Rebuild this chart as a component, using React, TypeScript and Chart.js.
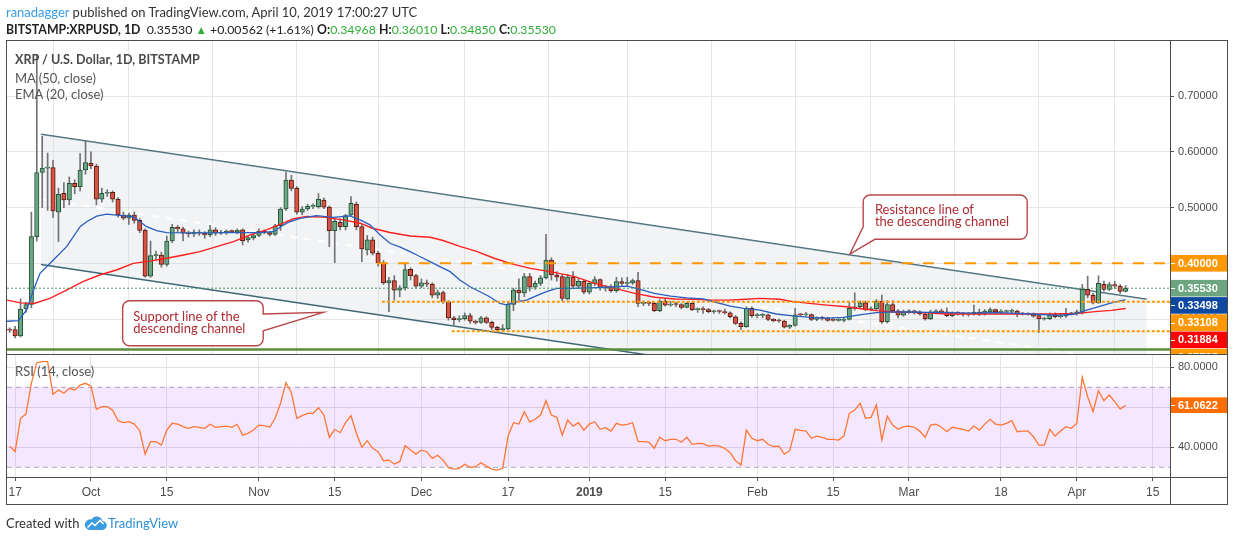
import React, { useEffect, useRef } from "react";
import { Chart, registerables } from "chart.js";

Chart.register(...registerables);

// ---------------- data ----------------
const FIRST_DATE = "2018-09-16";

const OPEN = [
  // Sep 16-30
  0.281, 0.281, 0.2695, 0.318, 0.326, 0.448, 0.563, 0.571, 0.572, 0.492, 0.5257, 0.5137, 0.5436, 0.5376, 0.5675,
  // Oct
  0.5795, 0.5747, 0.515, 0.5257, 0.5275, 0.515, 0.4867, 0.481, 0.4867, 0.477,
  0.459, 0.377, 0.4137, 0.415, 0.398, 0.44, 0.4646, 0.462, 0.454, 0.4526,
  0.456, 0.454, 0.451, 0.46, 0.454, 0.455, 0.4575, 0.4568, 0.46, 0.4418, 0.4454,
  // Nov
  0.45, 0.4575, 0.455, 0.452, 0.4675, 0.4975, 0.5496, 0.5346, 0.492, 0.4975,
  0.5023, 0.5017, 0.5137, 0.501, 0.4586, 0.4736, 0.4657, 0.4867, 0.506, 0.4659,
  0.424, 0.442, 0.418, 0.401, 0.365, 0.3688, 0.3516, 0.356, 0.389, 0.378,
  // Dec
  0.359, 0.365, 0.3625, 0.343, 0.3475, 0.331, 0.302, 0.299, 0.3005, 0.306,
  0.296, 0.294, 0.302, 0.294, 0.285, 0.281, 0.282, 0.3264, 0.352, 0.347,
  0.376, 0.357, 0.364, 0.374, 0.406, 0.379, 0.376, 0.336, 0.3755, 0.359, 0.3677,
  // Jan
  0.348, 0.364, 0.371, 0.356, 0.357, 0.351, 0.367, 0.364, 0.365, 0.369,
  0.328, 0.3285, 0.328, 0.315, 0.332, 0.325, 0.3265, 0.326, 0.321, 0.328,
  0.317, 0.3175, 0.317, 0.313, 0.314, 0.3135, 0.311, 0.304, 0.2923, 0.2862, 0.319,
  // Feb
  0.306, 0.3065, 0.3075, 0.2995, 0.297, 0.2965, 0.2855, 0.2887, 0.3077, 0.3075,
  0.308, 0.2995, 0.302, 0.3012, 0.2985, 0.2975, 0.2975, 0.2995, 0.319, 0.322,
  0.329, 0.317, 0.318, 0.332, 0.295, 0.326, 0.3145, 0.307,
  // Mar
  0.313, 0.3135, 0.313, 0.309, 0.3, 0.313, 0.3135, 0.313, 0.306, 0.311,
  0.3105, 0.309, 0.309, 0.3126, 0.309, 0.3126, 0.317, 0.3126, 0.3135, 0.3138,
  0.3144, 0.309, 0.3095, 0.309, 0.306, 0.3, 0.3005, 0.309, 0.304, 0.305, 0.3095,
  // Apr 1-10
  0.309, 0.3103, 0.3533, 0.3425, 0.329, 0.3623, 0.3533, 0.362, 0.359, 0.34968,
];

const HIGH = [
  0.284, 0.287, 0.336, 0.33, 0.492, 0.775, 0.628, 0.598, 0.585, 0.535, 0.545, 0.555, 0.55, 0.597, 0.62,
  0.6, 0.578, 0.535, 0.532, 0.53, 0.518, 0.492, 0.49, 0.492, 0.48,
  0.462, 0.44, 0.422, 0.42, 0.449, 0.47, 0.468, 0.465, 0.458, 0.46,
  0.46, 0.457, 0.468, 0.464, 0.459, 0.46, 0.46, 0.462, 0.462, 0.448, 0.452,
  0.462, 0.46, 0.457, 0.47, 0.5, 0.564, 0.558, 0.538, 0.502, 0.506,
  0.507, 0.525, 0.517, 0.503, 0.48, 0.48, 0.488, 0.52, 0.51, 0.47,
  0.45, 0.447, 0.422, 0.405, 0.375, 0.378, 0.36, 0.4, 0.392, 0.38,
  0.372, 0.37, 0.365, 0.352, 0.35, 0.333, 0.305, 0.306, 0.311, 0.31,
  0.298, 0.305, 0.304, 0.296, 0.287, 0.29, 0.33, 0.355, 0.372, 0.382,
  0.382, 0.368, 0.378, 0.452, 0.41, 0.385, 0.38, 0.38, 0.385, 0.372, 0.37,
  0.366, 0.376, 0.372, 0.36, 0.362, 0.375, 0.374, 0.375, 0.372, 0.384,
  0.332, 0.332, 0.33, 0.335, 0.336, 0.332, 0.33, 0.328, 0.33, 0.33,
  0.32, 0.322, 0.319, 0.316, 0.316, 0.318, 0.313, 0.306, 0.295, 0.322, 0.322,
  0.31, 0.31, 0.309, 0.301, 0.3, 0.298, 0.29, 0.319, 0.31, 0.312,
  0.309, 0.304, 0.305, 0.303, 0.302, 0.301, 0.302, 0.33, 0.347, 0.332,
  0.332, 0.322, 0.335, 0.343, 0.333, 0.333, 0.317, 0.316,
  0.317, 0.316, 0.315, 0.31, 0.316, 0.317, 0.318, 0.32, 0.313, 0.313,
  0.312, 0.312, 0.325, 0.318, 0.317, 0.32, 0.318, 0.317, 0.316, 0.318,
  0.316, 0.312, 0.311, 0.311, 0.307, 0.303, 0.311, 0.311, 0.31, 0.319, 0.312,
  0.316, 0.362, 0.377, 0.346, 0.3777, 0.368, 0.366, 0.368, 0.362, 0.3601,
];

const LOW = [
  0.276, 0.266, 0.268, 0.312, 0.32, 0.44, 0.5, 0.495, 0.482, 0.439, 0.5, 0.505, 0.525, 0.53, 0.56,
  0.57, 0.505, 0.51, 0.52, 0.51, 0.483, 0.478, 0.47, 0.472, 0.455,
  0.375, 0.375, 0.405, 0.393, 0.395, 0.437, 0.455, 0.44, 0.447, 0.448,
  0.45, 0.445, 0.448, 0.45, 0.452, 0.452, 0.455, 0.453, 0.433, 0.438, 0.442,
  0.448, 0.453, 0.449, 0.45, 0.459, 0.495, 0.53, 0.488, 0.487, 0.495,
  0.498, 0.499, 0.498, 0.43, 0.401, 0.46, 0.46, 0.485, 0.46, 0.403,
  0.415, 0.415, 0.395, 0.362, 0.313, 0.334, 0.34, 0.352, 0.37, 0.355,
  0.356, 0.358, 0.338, 0.337, 0.328, 0.298, 0.29, 0.295, 0.298, 0.292,
  0.291, 0.292, 0.292, 0.281, 0.278, 0.279, 0.281, 0.315, 0.334, 0.34,
  0.35, 0.353, 0.36, 0.372, 0.37, 0.368, 0.333, 0.334, 0.355, 0.356, 0.345,
  0.345, 0.36, 0.352, 0.35, 0.348, 0.348, 0.36, 0.36, 0.362, 0.322,
  0.324, 0.324, 0.313, 0.313, 0.323, 0.323, 0.322, 0.318, 0.32, 0.315,
  0.312, 0.31, 0.311, 0.31, 0.31, 0.309, 0.302, 0.29, 0.281, 0.285, 0.303,
  0.302, 0.302, 0.297, 0.295, 0.294, 0.284, 0.283, 0.287, 0.305, 0.305,
  0.297, 0.297, 0.298, 0.296, 0.296, 0.296, 0.295, 0.298, 0.316, 0.318,
  0.315, 0.315, 0.316, 0.292, 0.293, 0.312, 0.302, 0.305,
  0.31, 0.309, 0.307, 0.298, 0.299, 0.31, 0.31, 0.304, 0.304, 0.307,
  0.305, 0.305, 0.307, 0.306, 0.307, 0.311, 0.311, 0.31, 0.311, 0.311,
  0.304, 0.307, 0.307, 0.303, 0.2754, 0.298, 0.299, 0.302, 0.302, 0.303, 0.307,
  0.307, 0.309, 0.338, 0.327, 0.328, 0.35, 0.351, 0.355, 0.346, 0.3485,
];

const CLOSE = [
  0.28, 0.2695, 0.318, 0.326, 0.448, 0.563, 0.571, 0.572, 0.494, 0.524, 0.5137, 0.5436, 0.5376, 0.5675, 0.581,
  0.5747, 0.515, 0.5257, 0.5275, 0.515, 0.4867, 0.481, 0.4867, 0.477, 0.459,
  0.377, 0.4137, 0.415, 0.398, 0.44, 0.4646, 0.462, 0.454, 0.4526, 0.456,
  0.454, 0.451, 0.46, 0.454, 0.4556, 0.4575, 0.4568, 0.4595, 0.4406, 0.446, 0.45,
  0.4575, 0.455, 0.452, 0.4675, 0.4975, 0.5496, 0.5346, 0.492, 0.4975, 0.5023,
  0.5025, 0.515, 0.501, 0.4586, 0.4754, 0.4657, 0.4855, 0.5077, 0.4659, 0.4257,
  0.442, 0.418, 0.401, 0.365, 0.3688, 0.3516, 0.356, 0.3886, 0.378, 0.359,
  0.365, 0.3625, 0.343, 0.3475, 0.331, 0.302, 0.299, 0.3005, 0.306, 0.296,
  0.294, 0.302, 0.294, 0.285, 0.281, 0.283, 0.3264, 0.352, 0.347, 0.376,
  0.357, 0.364, 0.374, 0.406, 0.379, 0.375, 0.337, 0.3755, 0.359, 0.3677, 0.348,
  0.364, 0.371, 0.356, 0.357, 0.351, 0.367, 0.364, 0.366, 0.369, 0.328,
  0.3285, 0.328, 0.315, 0.332, 0.325, 0.3265, 0.326, 0.321, 0.328, 0.317,
  0.3175, 0.317, 0.313, 0.314, 0.3135, 0.311, 0.304, 0.2923, 0.2862, 0.319, 0.306,
  0.3065, 0.3075, 0.2995, 0.297, 0.2965, 0.2855, 0.2887, 0.3077, 0.3075, 0.308,
  0.2995, 0.302, 0.3012, 0.2975, 0.2975, 0.2985, 0.2995, 0.319, 0.322, 0.329,
  0.317, 0.318, 0.332, 0.295, 0.326, 0.3145, 0.307, 0.313,
  0.3135, 0.313, 0.309, 0.3, 0.313, 0.3135, 0.313, 0.306, 0.311, 0.3105,
  0.309, 0.3095, 0.3126, 0.309, 0.3143, 0.317, 0.3126, 0.3135, 0.3138, 0.3144,
  0.309, 0.3095, 0.309, 0.305, 0.3, 0.3005, 0.3077, 0.304, 0.3055, 0.3095, 0.3095,
  0.313, 0.3533, 0.3426, 0.329, 0.364, 0.3533, 0.362, 0.359, 0.3497, 0.3553,
];

const RSI = [
  40.6, 37.8, 54.5, 56.6, 72, 82.3, 82.8, 82.8, 66.5, 68.6, 67, 69.5, 68.6, 71.1, 72,
  70.6, 59, 60.3, 60.3, 58.6, 53.3, 52.3, 52.8, 51.6, 48.3,
  36.6, 42.8, 42.8, 41.1, 48.6, 52, 51.6, 50.3, 49.5, 50.3,
  50, 49.5, 51.5, 50, 50.3, 50.6, 50, 51.5, 46, 47, 48.6,
  51.1, 50.8, 50, 54.5, 62, 72.3, 67.3, 54.5, 55.8, 57,
  57, 59.8, 56.1, 45, 49, 47.3, 52.3, 55.8, 47, 40,
  43.3, 39.5, 37.8, 33.3, 33.6, 31.6, 32.8, 40.8, 38.6, 36.6,
  38.6, 37.8, 34.5, 36, 33.6, 29.8, 29.1, 29.5, 31.5, 30,
  30.3, 32.3, 30.6, 29.1, 28.6, 29.5, 45.6, 52.3, 51.6, 57.8,
  52.6, 54, 56.1, 63.3, 56.1, 55, 46.1, 53.6, 50.6, 52.3, 48.6,
  51.6, 52.8, 49, 49.8, 48.1, 52, 51.1, 51.5, 52.3, 42.8,
  42.8, 42.6, 39.5, 45, 43.3, 44, 44, 42.5, 45, 41.5,
  42, 41.8, 40.6, 41, 40.6, 39.5, 37.3, 33.3, 31.1, 48.6, 44.5,
  43.3, 44, 41.5, 40.3, 40.6, 36.6, 38.3, 49, 48.5, 48.1,
  44.5, 45.6, 45, 44, 44, 43.6, 45.6, 57, 58.6, 62,
  54.5, 55, 61.1, 43.6, 55.6, 51.1, 49, 50.3,
  50.6, 50, 48.1, 45, 51.1, 51.5, 50, 47.8, 50, 49.5,
  49, 48.1, 50.6, 48.6, 51.6, 54, 51.6, 51.1, 52, 53.3,
  47.8, 48.1, 48.1, 45.3, 41.1, 41.1, 49, 45.6, 48.1, 50.3, 49.5,
  52, 75, 65.3, 57.8, 68.3, 63.3, 66.1, 62.8, 59.1, 61.0622,
];

// indicator lines, read at day offsets from 2018-10-01
const MA50_DAYS = [
  -15.5, -13, -10.5, -7.6, -4.5, -1.5, 1.6, 4.7, 7.8, 10.9, 14, 17.1, 20.1, 23.2, 26.3, 29.4, 32.4, 35.5,
  37.4, 39.8, 42.9, 46.6, 49.7, 52, 55.2, 58.9, 62.6, 65, 68.1, 71.2, 74.3, 77.4, 81.1, 84.8, 89.3, 93,
  96.7, 100.4, 104.1, 107.8, 111.5, 114.6, 117.7, 120.1, 123.5, 127.2, 129.6, 132.7, 135.8, 139.5, 141.9,
  145, 148.1, 151.2, 154.3, 157.9, 162.3, 167.5, 173.6, 177.3, 181.6, 183.5, 185.9, 188.4, 191,
];
const MA50 = [
  0.334, 0.329, 0.328, 0.337, 0.352, 0.367, 0.379, 0.388, 0.4, 0.404, 0.409, 0.415, 0.421, 0.43, 0.439, 0.451, 0.46, 0.472,
  0.48, 0.484, 0.483, 0.478, 0.472, 0.463, 0.4553, 0.449, 0.4468, 0.441, 0.4305, 0.4215, 0.4096, 0.4, 0.391, 0.385, 0.376, 0.364,
  0.355, 0.346, 0.339, 0.336, 0.3355, 0.334, 0.334, 0.335, 0.337, 0.3354, 0.3312, 0.328, 0.325, 0.322, 0.319,
  0.315, 0.3126, 0.312, 0.311, 0.309, 0.309, 0.309, 0.309, 0.309, 0.31, 0.3114, 0.3138, 0.3156, 0.31884,
];
const EMA20_DAYS = [
  -15.5, -13.4, -11.9, -10.6, -9.4, -6.95, -4.5, -2, -0.8, 1.05,
  2.9, 4.7, 7.8, 9, 10.3, 12.1, 14, 20, 25, 31.2,
  33.7, 35.5, 36.7, 38.6, 41.6, 44.7, 47.8, 49.7, 51.5, 53.4,
  55.2, 57.1, 58.9, 60.7, 62.6, 64.4, 66.3, 68.1, 70, 71.8,
  73.6, 75.5, 76.7, 78.6, 80.4, 82.3, 84.1, 86, 89, 92,
  95, 99, 101, 104, 107, 110, 113, 115, 118, 120.5,
  123.5, 126.5, 129.6, 132.7, 135.8, 138.9, 141.9, 145, 148.1, 151.2,
  154.3, 157.9, 162.3, 167.5, 173.6, 178.5, 181.6, 183.5, 185.9, 188.4, 191,
];
const EMA20 = [
  0.296, 0.297, 0.316, 0.352, 0.382, 0.406, 0.43, 0.4657, 0.4746, 0.4848,
  0.4884, 0.4866, 0.4836, 0.475, 0.4657, 0.4586, 0.455, 0.4545, 0.455, 0.455,
  0.4568, 0.4687, 0.4746, 0.4807, 0.4855, 0.4824, 0.485, 0.478, 0.469, 0.451,
  0.436, 0.429, 0.421, 0.4123, 0.403, 0.394, 0.385, 0.37, 0.358, 0.349,
  0.34, 0.328, 0.3255, 0.331, 0.334, 0.342, 0.349, 0.355, 0.355, 0.356,
  0.357, 0.359, 0.354, 0.346, 0.341, 0.338, 0.336, 0.331, 0.323, 0.319,
  0.316, 0.309, 0.3055, 0.303, 0.3017, 0.303, 0.3073, 0.3116, 0.313, 0.3126,
  0.312, 0.3116, 0.3104, 0.3116, 0.309, 0.3066, 0.309, 0.315, 0.322, 0.329, 0.33498,
];

// drawings
const CHANNEL_DAYS = [-9.23, 194.9];
const CHANNEL_UPPER = [0.6316, 0.3354];
const CHANNEL_LOWER = [0.398, 0.1018];
const CHANNEL_MEDIAN = [0.515, 0.2186];
const RESISTANCE_LEVEL = 0.4;
const RESISTANCE_START = 52.8;
const SUPPORT_LEVELS = [0.33108, 0.27785];
const SUPPORT_STARTS = [53.7, 66.6];
const BASE_LEVEL = 0.2452;

const TICK_DATES = [
  "2018-09-17", "2018-10-01", "2018-10-15", "2018-11-01", "2018-11-15", "2018-12-01", "2018-12-17",
  "2019-01-01", "2019-01-15", "2019-02-01", "2019-02-15", "2019-03-01", "2019-03-18", "2019-04-01", "2019-04-15",
];
const TICK_LABELS = ["17", "Oct", "15", "Nov", "15", "Dec", "17", "2019", "15", "Feb", "15", "Mar", "18", "Apr", "15"];

const VIEW_DAYS = [-15.5, 199.2];
const PRICE_RANGE = [0.2372, 0.7991];
const PRICE_TICKS = [0.3, 0.4, 0.5, 0.6, 0.7];
const RSI_RANGE = [25.15, 86.15];
const RSI_TICKS = [40, 60, 80];
const RSI_BAND = [70, 30];

const SUPPORT_BOX_DAYS = [5.85, 31.8];
const SUPPORT_BOX_PRICES = [0.3329, 0.2521];
const SUPPORT_TIP = [42.88, 0.312];
const SUPPORT_BASE_PRICES = [0.309, 0.279];
const SUPPORT_TEXT = ["Support line of the", "descending channel"];
const RESIST_BOX_DAYS = [142.56, 172.84];
const RESIST_BOX_PRICES = [0.5226, 0.4431];
const RESIST_TIP = [140.11, 0.4167];
const RESIST_BASE = [0.4657, 144.72]; // price on left edge, day on bottom edge
const RESIST_TEXT = ["Resistance line of", "the descending channel"];

// ---------------- helpers & layout ----------------
const W = 1234;
const H = 541;
const FRAME_LEFT = 6;
const FRAME_TOP = 40;
const FRAME_RIGHT = 1227;
const AXIS_X = 1170;
const MAIN_BOTTOM = 354;
const RSI_TOP = 355;
const RSI_BOTTOM = 477;
const FRAME_BOTTOM = 504;
const TAG_H = 16.6;
const AXIS_FONT = '"Liberation Sans", Arial, sans-serif';
const LINE_COLOR = "#4d4d4d";

const EPOCH = Date.UTC(2018, 9, 1);
const dayOf = (s: string) => {
  const [y, m, d] = s.split("-").map(Number);
  return Math.round((Date.UTC(y, m - 1, d) - EPOCH) / 864e5);
};
const FIRST_DAY = dayOf(FIRST_DATE);
const CANDLE_X = CLOSE.map((_, i) => FIRST_DAY + i);
const TICK_DAYS = TICK_DATES.map(dayOf);
const UP = CLOSE.map((c, i) => c >= OPEN[i]);

const pts = (xs: number[], ys: number[]) => xs.map((x, i) => ({ x, y: ys[i] }));
const hline = (from: number, y: number) => [
  { x: from, y },
  { x: VIEW_DAYS[1], y },
];

const mainTags = {
  id: "mainTags",
  afterDraw(chart: any) {
    const { ctx, chartArea: a, scales } = chart;
    const y = scales.y;
    const vals = [
      RESISTANCE_LEVEL,
      CLOSE[CLOSE.length - 1],
      EMA20[EMA20.length - 1],
      SUPPORT_LEVELS[0],
      MA50[MA50.length - 1],
      SUPPORT_LEVELS[1],
    ];
    const cols = ["#ff9800", "#6ca580", "#0e48a0", "#ff9800", "#ff0000", "#ff9800"];
    ctx.save();
    ctx.beginPath();
    ctx.rect(a.right, a.top, FRAME_RIGHT - a.right, a.bottom - a.top + 0.5);
    ctx.clip();
    let prev = -1e9;
    vals.forEach((v, i) => {
      const c = y.getPixelForValue(v);
      const top = Math.max(c - TAG_H / 2, prev + 0.6);
      prev = top + TAG_H;
      ctx.fillStyle = cols[i];
      ctx.fillRect(a.right + 1, top, FRAME_RIGHT - a.right - 1, TAG_H);
      const mid = Math.round(top + TAG_H / 2) + 0.5;
      ctx.strokeStyle = "#ffffff";
      ctx.lineWidth = 1;
      ctx.beginPath();
      ctx.moveTo(a.right + 1, mid);
      ctx.lineTo(a.right + 5, mid);
      ctx.stroke();
      ctx.fillStyle = "#ffffff";
      ctx.font = `bold 11px ${AXIS_FONT}`;
      ctx.textBaseline = "middle";
      ctx.textAlign = "left";
      ctx.fillText(v.toFixed(5), a.right + 8, top + TAG_H / 2 + 0.5);
    });
    ctx.restore();
  },
};

function drawCallout(chart: any, o: any) {
  const { ctx, scales } = chart;
  const xs = scales.x;
  const ys = scales.y;
  const x0 = xs.getPixelForValue(o.boxDays[0]);
  const x1 = xs.getPixelForValue(o.boxDays[1]);
  const y0 = ys.getPixelForValue(o.boxPrices[0]);
  const y1 = ys.getPixelForValue(o.boxPrices[1]);
  const tx = xs.getPixelForValue(o.tip[0]);
  const ty = ys.getPixelForValue(o.tip[1]);
  const r = 7;
  ctx.beginPath();
  if (o.side === "right") {
    const pa = ys.getPixelForValue(o.base[0]);
    const pb = ys.getPixelForValue(o.base[1]);
    ctx.moveTo(x0 + r, y0);
    ctx.lineTo(x1 - r, y0);
    ctx.arcTo(x1, y0, x1, y0 + r, r);
    ctx.lineTo(x1, pa);
    ctx.lineTo(tx, ty);
    ctx.lineTo(x1, pb);
    ctx.lineTo(x1, y1 - r);
    ctx.arcTo(x1, y1, x1 - r, y1, r);
    ctx.lineTo(x0 + r, y1);
    ctx.arcTo(x0, y1, x0, y1 - r, r);
    ctx.lineTo(x0, y0 + r);
    ctx.arcTo(x0, y0, x0 + r, y0, r);
  } else {
    const pa = ys.getPixelForValue(o.base[0]);
    const pxb = xs.getPixelForValue(o.base[1]);
    ctx.moveTo(x0 + r, y0);
    ctx.lineTo(x1 - r, y0);
    ctx.arcTo(x1, y0, x1, y0 + r, r);
    ctx.lineTo(x1, y1 - r);
    ctx.arcTo(x1, y1, x1 - r, y1, r);
    ctx.lineTo(pxb, y1);
    ctx.lineTo(tx, ty);
    ctx.lineTo(x0, pa);
    ctx.lineTo(x0, y0 + r);
    ctx.arcTo(x0, y0, x0 + r, y0, r);
  }
  ctx.closePath();
  ctx.fillStyle = "rgba(255,255,255,0.96)";
  ctx.fill();
  ctx.strokeStyle = "#b8474c";
  ctx.lineWidth = 1.4;
  ctx.stroke();
  ctx.fillStyle = "#ab2b32";
  ctx.font = "13px Lato, sans-serif";
  ctx.textBaseline = "middle";
  ctx.textAlign = "left";
  ctx.fillText(o.text[0], x0 + o.pad, y0 + o.line1);
  ctx.fillText(o.text[1], x0 + o.pad, y0 + o.line1 + 12);
}

const callouts = {
  id: "callouts",
  afterDatasetsDraw(chart: any) {
    const { ctx, chartArea: a } = chart;
    ctx.save();
    ctx.beginPath();
    ctx.rect(a.left, a.top, a.right - a.left, a.bottom - a.top);
    ctx.clip();
    drawCallout(chart, {
      side: "right",
      boxDays: SUPPORT_BOX_DAYS,
      boxPrices: SUPPORT_BOX_PRICES,
      tip: SUPPORT_TIP,
      base: SUPPORT_BASE_PRICES,
      text: SUPPORT_TEXT,
      pad: 10.6,
      line1: 16,
    });
    drawCallout(chart, {
      side: "bottomleft",
      boxDays: RESIST_BOX_DAYS,
      boxPrices: RESIST_BOX_PRICES,
      tip: RESIST_TIP,
      base: RESIST_BASE,
      text: RESIST_TEXT,
      pad: 11.7,
      line1: 15,
    });
    ctx.restore();
  },
};

const rsiTag = {
  id: "rsiTag",
  afterDraw(chart: any) {
    const { ctx, chartArea: a, scales } = chart;
    const v = RSI[RSI.length - 1];
    const c = scales.y.getPixelForValue(v);
    const h = 15.6;
    ctx.save();
    ctx.fillStyle = "#ff6d00";
    ctx.fillRect(a.right + 1, c - h / 2, FRAME_RIGHT - a.right - 1, h);
    const mid = Math.round(c) + 0.5;
    ctx.strokeStyle = "#ffffff";
    ctx.lineWidth = 1;
    ctx.beginPath();
    ctx.moveTo(a.right + 1, mid);
    ctx.lineTo(a.right + 5, mid);
    ctx.stroke();
    ctx.fillStyle = "#ffffff";
    ctx.font = `bold 11px ${AXIS_FONT}`;
    ctx.textBaseline = "middle";
    ctx.textAlign = "left";
    ctx.fillText(v.toFixed(4), a.right + 8, c + 0.5);
    ctx.restore();
  },
};

const xTicks = (axis: any) => {
  axis.ticks = TICK_DAYS.map((value) => ({ value }));
};

function mainConfig(): any {
  return {
    type: "bar",
    data: {
      datasets: [
        {
          type: "line",
          data: pts(CHANNEL_DAYS, CHANNEL_UPPER),
          borderColor: "#3f6874",
          borderWidth: 1.5,
          pointRadius: 0,
          fill: false,
          order: 20,
        },
        {
          type: "line",
          data: pts(CHANNEL_DAYS, CHANNEL_LOWER),
          borderColor: "#3f6874",
          borderWidth: 1.5,
          pointRadius: 0,
          fill: "-1",
          backgroundColor: "rgba(210,214,221,0.3)",
          order: 19,
        },
        {
          type: "line",
          data: pts(CHANNEL_DAYS, CHANNEL_MEDIAN),
          borderColor: "rgba(255,255,255,0.95)",
          borderWidth: 2,
          borderDash: [7, 7],
          pointRadius: 0,
          fill: false,
          order: 18,
        },
        {
          type: "bar",
          data: CANDLE_X.map((x, i) => ({ x, y: [LOW[i], HIGH[i]] })),
          backgroundColor: "#737375",
          barThickness: 1,
          grouped: false,
          order: 10,
        },
        {
          type: "bar",
          data: CANDLE_X.map((x, i) => ({ x, y: [OPEN[i], CLOSE[i]] })),
          backgroundColor: UP.map((u) => (u ? "#6ba583" : "#d75442")),
          borderColor: UP.map((u) => (u ? "#225437" : "#5b1a13")),
          borderWidth: 1,
          borderSkipped: false,
          barThickness: 4.4,
          minBarLength: 1,
          grouped: false,
          order: 9,
        },
        {
          type: "line",
          data: pts(MA50_DAYS, MA50),
          borderColor: "#ff1f1f",
          borderWidth: 1.4,
          pointRadius: 0,
          fill: false,
          order: 6,
        },
        {
          type: "line",
          data: pts(EMA20_DAYS, EMA20),
          borderColor: "#2a5fbd",
          borderWidth: 1.3,
          pointRadius: 0,
          fill: false,
          order: 5,
        },
        {
          type: "line",
          data: hline(VIEW_DAYS[0], BASE_LEVEL),
          borderColor: "#5b8f3c",
          borderWidth: 2.5,
          pointRadius: 0,
          fill: false,
          order: 4,
        },
        {
          type: "line",
          data: hline(VIEW_DAYS[0], CLOSE[CLOSE.length - 1]),
          borderColor: "#4c9a68",
          borderWidth: 1,
          borderDash: [2, 2],
          pointRadius: 0,
          fill: false,
          order: 3,
        },
        {
          type: "line",
          data: hline(RESISTANCE_START, RESISTANCE_LEVEL),
          borderColor: "#ff9800",
          borderWidth: 2,
          borderDash: [11, 10],
          pointRadius: 0,
          fill: false,
          order: 2,
        },
        ...SUPPORT_LEVELS.map((lv, i) => ({
          type: "line",
          data: hline(SUPPORT_STARTS[i], lv),
          borderColor: "#ff9800",
          borderWidth: 2,
          borderDash: [3, 2],
          pointRadius: 0,
          fill: false,
          order: 1,
        })),
      ],
    },
    options: {
      responsive: false,
      animation: false,
      events: [],
      layout: { padding: { left: 7, top: 41, right: 0, bottom: H - MAIN_BOTTOM } },
      plugins: { legend: { display: false }, tooltip: { enabled: false } },
      scales: {
        x: {
          type: "linear",
          min: VIEW_DAYS[0],
          max: VIEW_DAYS[1],
          offset: false,
          afterBuildTicks: xTicks,
          ticks: { display: false },
          grid: { color: "#e6e6e6", drawTicks: false },
          border: { display: false },
          afterFit: (s: any) => {
            s.height = 0;
          },
        },
        y: {
          type: "linear",
          position: "right",
          min: PRICE_RANGE[0],
          max: PRICE_RANGE[1],
          afterBuildTicks: (axis: any) => {
            axis.ticks = PRICE_TICKS.map((value) => ({ value }));
          },
          ticks: {
            callback: (v: any) => Number(v).toFixed(5),
            color: "#4d4d4d",
            font: { family: AXIS_FONT, size: 11 },
            padding: 4,
          },
          grid: { color: "#e6e6e6", tickColor: "#555", tickLength: 4 },
          border: { display: false },
          afterFit: (s: any) => {
            s.width = W - AXIS_X;
          },
        },
      },
    },
    plugins: [callouts, mainTags],
  };
}

function rsiConfig(): any {
  return {
    type: "line",
    data: {
      datasets: [
        {
          data: hline(VIEW_DAYS[0], RSI_BAND[0]),
          borderColor: "#b0a8b8",
          borderWidth: 1,
          borderDash: [5, 4],
          pointRadius: 0,
          fill: false,
          order: 3,
        },
        {
          data: hline(VIEW_DAYS[0], RSI_BAND[1]),
          borderColor: "#b0a8b8",
          borderWidth: 1,
          borderDash: [5, 4],
          pointRadius: 0,
          fill: "-1",
          backgroundColor: "rgba(153,21,255,0.1)",
          order: 2,
        },
        {
          data: CANDLE_X.map((x, i) => ({ x, y: RSI[i] })),
          borderColor: "#ff7633",
          borderWidth: 1.3,
          pointRadius: 0,
          fill: false,
          order: 1,
        },
      ],
    },
    options: {
      responsive: false,
      animation: false,
      events: [],
      layout: { padding: { left: 7, top: RSI_TOP, right: 0, bottom: H - FRAME_BOTTOM } },
      plugins: { legend: { display: false }, tooltip: { enabled: false } },
      scales: {
        x: {
          type: "linear",
          min: VIEW_DAYS[0],
          max: VIEW_DAYS[1],
          offset: false,
          afterBuildTicks: xTicks,
          ticks: {
            autoSkip: false,
            maxRotation: 0,
            callback: (_v: any, i: number) => TICK_LABELS[i],
            color: "#4d4d4d",
            padding: 4,
            font: (c: any) => ({
              family: AXIS_FONT,
              size: 12,
              weight: c.tick && c.tick.label === "2019" ? "bold" : "normal",
            }),
          },
          grid: { color: "#e6e6e6", tickColor: "#555", tickLength: 4 },
          border: { display: false },
          afterFit: (s: any) => {
            s.height = FRAME_BOTTOM - RSI_BOTTOM;
          },
        },
        y: {
          type: "linear",
          position: "right",
          min: RSI_RANGE[0],
          max: RSI_RANGE[1],
          afterBuildTicks: (axis: any) => {
            axis.ticks = RSI_TICKS.map((value) => ({ value }));
          },
          ticks: {
            callback: (v: any) => Number(v).toFixed(4),
            color: "#4d4d4d",
            font: { family: AXIS_FONT, size: 11 },
            padding: 4,
          },
          grid: { color: "#e2dde6", tickColor: "#555", tickLength: 4 },
          border: { display: false },
          afterFit: (s: any) => {
            s.width = W - AXIS_X;
          },
        },
      },
    },
    plugins: [rsiTag],
  };
}

const GREEN = "#2fae37";

function Line({ x, y, w, h }: any) {
  return <div style={{ position: "absolute", left: x, top: y, width: w, height: h, background: LINE_COLOR }} />;
}

export default function App() {
  const mainRef = useRef<HTMLCanvasElement>(null);
  const rsiRef = useRef<HTMLCanvasElement>(null);

  useEffect(() => {
    const c1 = new Chart(mainRef.current as HTMLCanvasElement, mainConfig());
    const c2 = new Chart(rsiRef.current as HTMLCanvasElement, rsiConfig());
    return () => {
      c1.destroy();
      c2.destroy();
    };
  }, []);

  const txt: any = { position: "absolute", fontSize: 13, lineHeight: "18px", whiteSpace: "nowrap" };

  return (
    <div
      style={{
        position: "absolute",
        left: 0,
        top: 0,
        width: W,
        height: H,
        background: "#ffffff",
        overflow: "hidden",
        fontFamily: "Lato, sans-serif",
      }}
    >
      <canvas ref={mainRef} width={W} height={H} style={{ position: "absolute", left: 0, top: 0 }} />
      <canvas ref={rsiRef} width={W} height={H} style={{ position: "absolute", left: 0, top: 0 }} />

      {/* frame */}
      <Line x={FRAME_LEFT} y={FRAME_TOP} w={FRAME_RIGHT - FRAME_LEFT + 1} h={1} />
      <Line x={FRAME_LEFT} y={FRAME_BOTTOM} w={FRAME_RIGHT - FRAME_LEFT + 1} h={1} />
      <Line x={FRAME_LEFT} y={FRAME_TOP} w={1} h={FRAME_BOTTOM - FRAME_TOP} />
      <Line x={FRAME_RIGHT} y={FRAME_TOP} w={1} h={FRAME_BOTTOM - FRAME_TOP + 1} />
      <Line x={AXIS_X} y={FRAME_TOP} w={1} h={FRAME_BOTTOM - FRAME_TOP} />
      <Line x={FRAME_LEFT} y={MAIN_BOTTOM} w={FRAME_RIGHT - FRAME_LEFT} h={1} />
      <Line x={FRAME_LEFT} y={RSI_BOTTOM} w={FRAME_RIGHT - FRAME_LEFT} h={1} />

      {/* header */}
      <div style={{ ...txt, left: 6, top: 3, color: "#333" }}>
        <span style={{ color: "#3a9de2" }}>ranadagger</span> published on TradingView.com, April 10, 2019 17:00:27 UTC
      </div>
      <div style={{ ...txt, left: 6, top: 21, fontSize: 12.3, color: "#222" }}>
        <b>BITSTAMP:XRPUSD, 1D</b>&nbsp; 0.35530 <span style={{ color: GREEN, fontSize: 11.5 }}>▲</span> +0.00562 (+1.61%){" "}
        <b>O:</b>
        <span style={{ color: GREEN }}>0.34968</span> <b>H:</b>
        <span style={{ color: GREEN }}>0.36010</span> <b>L:</b>
        <span style={{ color: GREEN }}>0.34850</span> <b>C:</b>
        <span style={{ color: GREEN }}>0.35530</span>
      </div>

      {/* legends */}
      <div style={{ ...txt, left: 15, top: 51, fontSize: 12.6, color: "#4a4a4a", fontWeight: 700 }}>
        XRP / U.S. Dollar, 1D, BITSTAMP
      </div>
      <div style={{ ...txt, left: 15, top: 69, color: "#555" }}>MA (50, close)</div>
      <div style={{ ...txt, left: 15, top: 85, color: "#555" }}>EMA (20, close)</div>
      <div style={{ ...txt, left: 15, top: 362, color: "#555" }}>RSI (14, close)</div>

      {/* footer */}
      <div style={{ ...txt, left: 6, top: 514, color: "#333" }}>Created with</div>
      <svg width="24" height="16" viewBox="0 0 24 16" style={{ position: "absolute", left: 83, top: 515 }}>
        <path d="M6 15 H19 A4.5 4.5 0 0 0 19.5 6 A6 6 0 0 0 8.5 4.5 A4.5 4.5 0 0 0 6 15 Z" fill="#3d9be0" />
        <polyline points="4.5,12.5 9,8 12,10.5 17,5.5 20.5,9" fill="none" stroke="#ffffff" strokeWidth="1.6" />
      </svg>
      <div style={{ ...txt, left: 108, top: 514, color: "#2f8fd8" }}>TradingView</div>
    </div>
  );
}
